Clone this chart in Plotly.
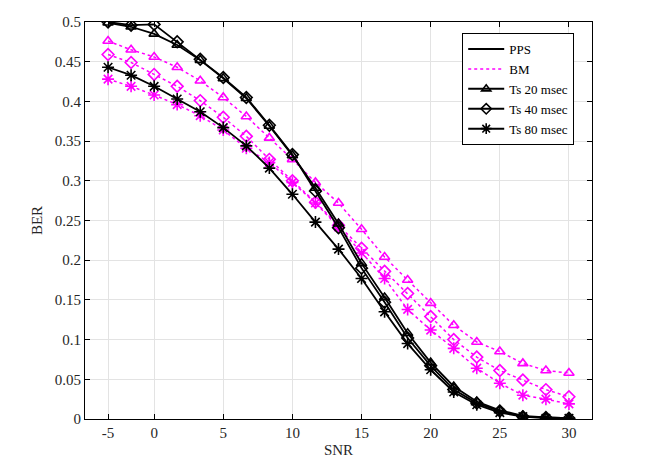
import plotly.graph_objects as go

# sample positions along the SNR axis (21 equally spaced samples)
sample_pos = list(range(21))
tick_pos = [0, 2, 5, 8, 11, 14, 17, 20]
tick_labels = ["-5", "0", "5", "10", "15", "20", "25", "30"]

pps_20 = [0.499, 0.494, 0.485, 0.471, 0.452, 0.429, 0.404, 0.369, 0.332, 0.291, 0.246,
          0.196, 0.153, 0.108, 0.071, 0.041, 0.022, 0.011, 0.004, 0.002, 0.001]
pps_40 = [0.500, 0.496, 0.497, 0.475, 0.453, 0.430, 0.405, 0.370, 0.333, 0.287, 0.241,
          0.190, 0.147, 0.102, 0.067, 0.037, 0.020, 0.010, 0.003, 0.002, 0.001]
pps_80 = [0.443, 0.433, 0.419, 0.403, 0.387, 0.367, 0.344, 0.316, 0.283, 0.248, 0.214,
          0.177, 0.135, 0.095, 0.062, 0.034, 0.018, 0.008, 0.003, 0.001, 0.001]
bm_20 = [0.476, 0.465, 0.456, 0.443, 0.426, 0.405, 0.381, 0.354, 0.327, 0.298, 0.272,
         0.239, 0.204, 0.175, 0.146, 0.118, 0.097, 0.085, 0.070, 0.061, 0.058]
bm_40 = [0.459, 0.449, 0.434, 0.419, 0.401, 0.380, 0.356, 0.327, 0.300, 0.273, 0.244,
         0.215, 0.186, 0.158, 0.129, 0.100, 0.078, 0.061, 0.049, 0.037, 0.028]
bm_80 = [0.428, 0.419, 0.408, 0.396, 0.382, 0.364, 0.341, 0.323, 0.298, 0.272, 0.242,
         0.209, 0.177, 0.138, 0.112, 0.089, 0.064, 0.045, 0.030, 0.025, 0.019]

BLACK = "#000000"
MAG = "#FF00FF"
FONT = "Liberation Serif"

fig = go.Figure()

series = [
    (bm_20, MAG, "dot", 1.5, "triangle-up-open", 9),
    (bm_40, MAG, "dot", 1.5, "diamond-open", 9),
    (bm_80, MAG, "dot", 1.5, "asterisk-open", 10),
    (pps_20, BLACK, "solid", 1.8, "triangle-up-open", 9),
    (pps_40, BLACK, "solid", 1.8, "diamond-open", 9),
    (pps_80, BLACK, "solid", 1.8, "asterisk-open", 10),
]
for ys, col, dash, lw, sym, sz in series:
    fig.add_trace(go.Scatter(
        x=sample_pos, y=ys, mode="lines+markers", showlegend=False,
        line=dict(color=col, width=lw, dash=dash),
        marker=dict(symbol=sym, size=sz, color=col, line=dict(color=col, width=1.6)),
    ))

# legend entries
fig.add_trace(go.Scatter(x=[None], y=[None], mode="lines", name="PPS",
                         line=dict(color=BLACK, width=2)))
fig.add_trace(go.Scatter(x=[None], y=[None], mode="lines", name="BM",
                         line=dict(color=MAG, width=1.5, dash="dot")))
for name, sym, sz in [("Ts 20 msec", "triangle-up-open", 8),
                      ("Ts 40 msec", "diamond-open", 8),
                      ("Ts 80 msec", "asterisk-open", 9)]:
    fig.add_trace(go.Scatter(x=[None], y=[None], mode="lines+markers", name=name,
                             line=dict(color=BLACK, width=2),
                             marker=dict(symbol=sym, size=sz, color=BLACK,
                                         line=dict(color=BLACK, width=1.6))))

axis_common = dict(
    showline=True, linecolor=BLACK, linewidth=1, mirror="ticks",
    ticks="inside", ticklen=5, tickcolor=BLACK, automargin=False,
    showgrid=True, gridcolor="#E3E3E3", gridwidth=1, zeroline=False,
    tickfont=dict(family=FONT, size=15, color="#262626"),
)

fig.update_xaxes(range=[-1, 21], tickmode="array", tickvals=tick_pos, ticktext=tick_labels,
                 title=dict(text="SNR", font=dict(family=FONT, size=15, color="#262626"), standoff=4),
                 **axis_common)
fig.update_yaxes(range=[0, 0.5], tickmode="array",
                 tickvals=[0, 0.05, 0.1, 0.15, 0.2, 0.25, 0.3, 0.35, 0.4, 0.45, 0.5],
                 ticktext=["0", "0.05", "0.1", "0.15", "0.2", "0.25", "0.3", "0.35", "0.4", "0.45", "0.5"],
                 title=dict(text="BER", font=dict(family=FONT, size=15, color="#262626"), standoff=8),
                 **axis_common)

fig.update_layout(
    width=654, height=476,
    margin=dict(l=85, r=62, t=22, b=57),
    plot_bgcolor="white", paper_bgcolor="white",
    font=dict(family=FONT, size=15, color=BLACK),
    legend=dict(x=0.744, y=0.972, xanchor="left", yanchor="top",
                bgcolor="white", bordercolor=BLACK, borderwidth=1,
                font=dict(family=FONT, size=13, color=BLACK),
                tracegroupgap=0, itemwidth=36),
)

fig.write_html("out.html", config={"displayModeBar": False},
               post_script="document.body.style.margin='0px';")
